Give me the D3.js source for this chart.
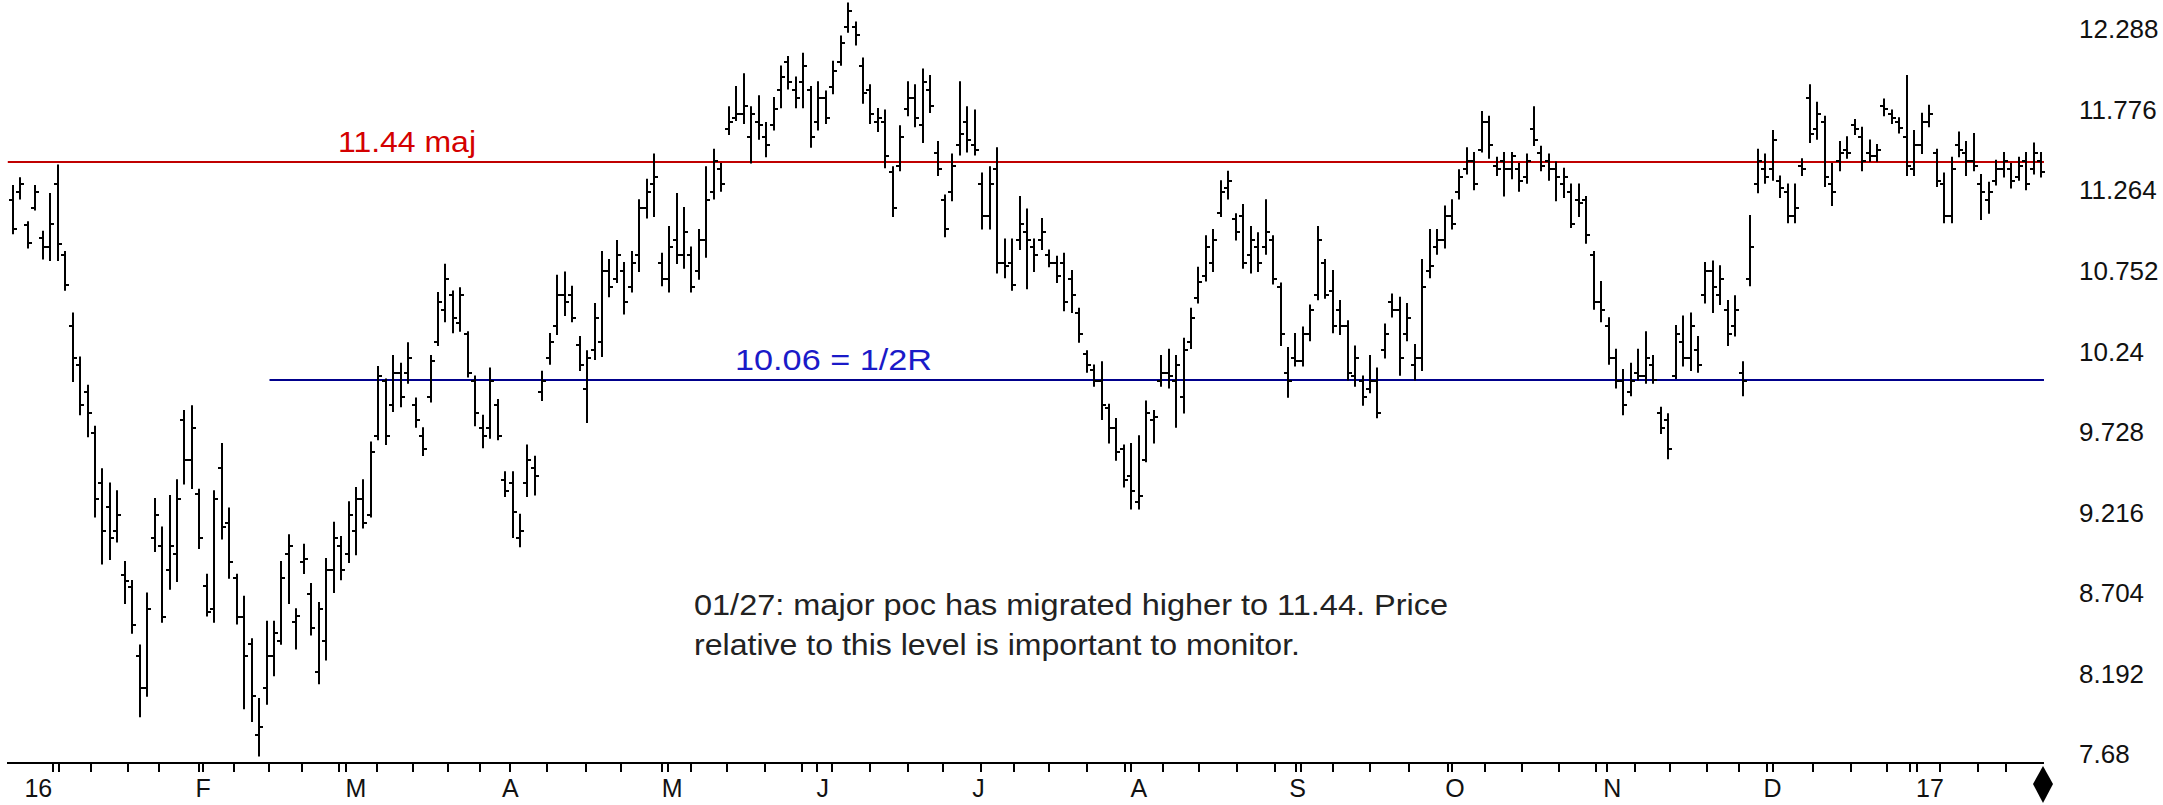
<!DOCTYPE html>
<html><head><meta charset="utf-8">
<script src="https://cdn.jsdelivr.net/npm/d3@7"></script>
<style>html,body{margin:0;padding:0;background:#fff;} svg{display:block}</style>
</head><body><svg id="c" width="2163" height="805"></svg>
<script>
// ---- data ----
const highs = [
11.29,11.34,11.06,11.29,11.00,11.24,11.42,10.87,10.48,10.20,
10.02,9.76,9.49,9.40,9.35,8.90,8.78,8.37,8.70,9.30,
9.12,9.32,9.42,9.86,9.89,9.36,8.82,9.35,9.65,9.24,
8.82,8.68,8.41,8.03,8.52,8.52,8.90,9.07,8.60,9.01,
8.76,8.64,8.92,9.15,9.06,9.28,9.37,9.42,9.66,10.14,
10.06,10.21,10.16,10.29,9.94,9.75,10.21,10.61,10.79,10.62,
10.64,10.36,10.08,9.83,10.13,9.93,9.47,9.47,9.20,9.64,
9.57,10.11,10.35,10.72,10.74,10.65,10.33,10.24,10.54,10.87,
10.82,10.94,10.80,10.87,11.20,11.33,11.49,10.86,11.03,11.24,
11.15,10.90,11.01,11.41,11.52,11.43,11.79,11.92,12.00,11.79,
11.86,11.69,11.85,12.05,12.11,11.98,12.13,11.92,11.95,11.89,
12.08,12.24,12.45,12.33,12.10,11.93,11.78,11.77,11.41,11.67,
11.95,11.93,12.03,11.99,11.57,11.23,11.49,11.95,11.79,11.77,
11.37,11.41,11.53,10.95,10.95,11.22,11.14,10.95,11.08,10.88,
10.84,10.86,10.75,10.51,10.24,10.15,10.17,9.90,9.81,9.64,
9.65,9.70,9.92,9.86,10.21,10.25,10.21,10.32,10.51,10.77,
10.97,11.01,11.32,11.38,11.11,11.17,11.03,10.99,11.20,10.97,
10.67,10.26,10.35,10.39,10.53,11.03,10.82,10.75,10.56,10.43,
10.27,10.08,10.21,10.13,10.41,10.60,10.58,10.54,10.28,10.82,
11.01,11.01,11.16,11.20,11.39,11.53,11.50,11.76,11.73,11.47,
11.50,11.50,11.43,11.49,11.79,11.54,11.49,11.44,11.40,11.30,
11.30,11.22,10.87,10.68,10.45,10.25,10.12,10.16,10.25,10.36,
10.21,9.88,9.84,10.40,10.46,10.48,10.33,10.80,10.81,10.78,
10.56,10.59,10.17,11.10,11.52,11.49,11.64,11.35,11.30,11.30,
11.46,11.93,11.82,11.73,11.43,11.57,11.60,11.71,11.66,11.58,
11.55,11.84,11.77,11.72,11.99,11.64,11.75,11.80,11.52,11.37,
11.47,11.63,11.57,11.62,11.36,11.31,11.45,11.50,11.43,11.47,
11.50,11.56,11.50];
const lows = [
10.99,11.21,10.90,11.14,10.83,10.82,10.82,10.63,10.05,9.84,
9.70,9.19,8.89,8.92,9.03,8.64,8.45,7.92,8.05,8.97,
8.52,8.73,8.78,9.40,9.37,8.99,8.56,8.52,9.05,8.80,
8.51,7.97,7.89,7.67,8.00,8.18,8.38,8.64,8.35,8.83,
8.44,8.13,8.28,8.71,8.79,8.90,8.95,9.12,9.19,9.68,
9.65,9.86,9.89,10.04,9.76,9.58,9.92,10.28,10.43,10.36,
10.37,10.08,9.77,9.63,9.69,9.68,9.32,9.06,9.00,9.32,
9.33,9.93,10.16,10.35,10.47,10.43,10.12,9.79,10.19,10.21,
10.59,10.68,10.48,10.62,10.75,11.09,11.10,10.66,10.62,10.80,
10.77,10.62,10.70,10.84,11.21,11.26,11.62,11.71,11.69,11.44,
11.59,11.48,11.65,11.79,11.91,11.79,11.79,11.54,11.65,11.69,
11.88,12.06,12.27,12.19,11.82,11.69,11.64,11.41,11.10,11.39,
11.74,11.67,11.57,11.76,11.36,10.97,11.20,11.49,11.51,11.49,
11.02,11.02,10.74,10.71,10.63,10.89,10.64,10.75,10.89,10.78,
10.68,10.50,10.49,10.30,10.11,10.02,9.81,9.66,9.55,9.38,
9.24,9.24,9.54,9.66,10.02,10.01,9.76,9.85,10.26,10.55,
10.69,10.75,11.10,11.21,10.95,10.77,10.74,10.75,10.86,10.67,
10.28,9.95,10.15,10.15,10.31,10.57,10.58,10.36,10.35,10.06,
10.02,9.90,9.98,9.82,10.20,10.46,10.09,10.31,10.06,10.12,
10.71,10.86,10.90,11.02,11.21,11.37,11.27,11.51,11.47,11.36,
11.23,11.34,11.26,11.31,11.55,11.39,11.33,11.20,11.22,11.03,
11.10,10.93,10.51,10.43,10.16,10.01,9.84,9.96,10.06,10.04,
10.04,9.72,9.56,10.07,10.15,10.12,10.11,10.55,10.49,10.54,
10.28,10.34,9.96,10.66,11.25,11.31,11.33,11.22,11.06,11.06,
11.36,11.57,11.59,11.29,11.17,11.39,11.47,11.62,11.39,11.45,
11.45,11.74,11.69,11.63,11.36,11.36,11.50,11.67,11.29,11.06,
11.06,11.48,11.36,11.39,11.08,11.12,11.30,11.35,11.28,11.33,
11.27,11.37,11.35];
const opens = [
11.20,11.25,11.04,11.15,10.96,10.90,11.30,10.85,10.40,10.15,
9.98,9.72,9.40,9.25,9.10,8.82,8.74,8.30,8.10,9.05,
9.00,8.85,8.95,9.80,9.55,9.33,8.75,8.60,9.50,9.15,
8.80,8.55,8.38,7.80,8.10,8.30,8.40,8.95,8.52,8.90,
8.70,8.20,8.40,8.85,9.00,8.95,9.10,9.30,9.20,9.70,
10.05,9.90,10.10,10.10,9.90,9.70,9.95,10.30,10.50,10.60,
10.42,10.35,10.05,9.75,9.75,9.90,9.42,9.40,9.05,9.40,
9.50,9.98,10.20,10.40,10.60,10.60,10.28,10.00,10.25,10.30,
10.75,10.70,10.75,10.65,10.85,11.15,11.30,10.80,10.70,10.95,
10.85,10.85,10.75,10.95,11.25,11.40,11.65,11.72,11.75,11.60,
11.70,11.60,11.68,11.90,12.08,11.90,11.95,11.90,11.70,11.85,
11.92,12.08,12.30,12.30,12.05,11.90,11.70,11.70,11.38,11.42,
11.78,11.85,11.68,11.90,11.50,11.20,11.25,11.55,11.70,11.55,
11.30,11.10,11.40,10.80,10.80,10.95,11.00,10.90,10.95,10.85,
10.80,10.80,10.70,10.48,10.22,10.12,10.05,9.88,9.75,9.62,
9.45,9.28,9.55,9.80,10.05,10.10,10.05,9.95,10.30,10.58,
10.72,10.80,11.12,11.28,11.08,11.10,10.85,10.90,10.90,10.95,
10.65,10.10,10.20,10.18,10.35,10.60,10.80,10.62,10.50,10.40,
10.08,10.05,10.00,10.05,10.25,10.55,10.50,10.35,10.15,10.20,
10.75,10.90,10.95,11.10,11.25,11.40,11.45,11.52,11.70,11.42,
11.45,11.40,11.40,11.35,11.65,11.50,11.45,11.40,11.30,11.25,
11.20,11.20,10.85,10.55,10.40,10.20,10.05,9.98,10.10,10.08,
10.15,9.85,9.80,10.08,10.30,10.20,10.25,10.60,10.75,10.60,
10.50,10.40,10.10,10.70,11.30,11.40,11.40,11.32,11.25,11.10,
11.42,11.85,11.65,11.70,11.30,11.45,11.52,11.68,11.60,11.50,
11.48,11.80,11.75,11.70,11.60,11.40,11.55,11.70,11.50,11.30,
11.10,11.55,11.50,11.45,11.30,11.20,11.32,11.40,11.40,11.35,
11.45,11.40,11.45];
const closes = [
11.02,11.30,10.93,11.25,10.90,11.05,10.92,10.66,10.20,9.90,
9.85,9.30,9.10,9.05,9.20,8.78,8.50,8.10,8.60,9.20,
8.55,9.00,9.30,9.55,9.75,9.05,8.58,9.30,9.12,8.90,
8.55,8.30,8.05,7.85,8.30,8.45,8.80,9.00,8.56,8.92,
8.48,8.60,8.85,9.05,8.85,9.20,9.30,9.15,9.60,10.08,
9.70,10.10,9.95,10.20,9.80,9.62,10.18,10.55,10.70,10.45,
10.60,10.10,9.85,9.70,10.05,9.70,9.35,9.22,9.10,9.55,
9.45,10.05,10.30,10.60,10.55,10.45,10.15,10.20,10.45,10.75,
10.65,10.85,10.55,10.80,11.15,11.25,11.35,10.70,10.90,10.85,
11.00,10.65,10.95,11.20,11.45,11.30,11.70,11.75,11.80,11.75,
11.68,11.55,11.78,11.98,11.95,11.85,12.05,11.60,11.85,11.72,
12.02,12.20,12.40,12.25,11.88,11.75,11.72,11.48,11.15,11.60,
11.85,11.72,11.95,11.80,11.40,11.02,11.42,11.62,11.58,11.52,
11.10,11.30,10.80,10.78,10.66,11.05,10.95,10.85,11.00,10.80,
10.72,10.55,10.60,10.35,10.15,10.05,9.90,9.75,9.60,9.42,
9.35,9.32,9.85,9.82,10.10,10.08,10.15,10.25,10.45,10.68,
10.90,10.95,11.25,11.32,11.00,10.80,10.95,10.80,11.00,10.70,
10.35,10.05,10.18,10.35,10.50,10.95,10.60,10.40,10.40,10.10,
10.20,9.95,10.05,9.85,10.35,10.50,10.20,10.45,10.20,10.65,
10.78,10.95,11.10,11.05,11.35,11.45,11.30,11.70,11.55,11.40,
11.40,11.48,11.32,11.45,11.58,11.42,11.40,11.35,11.35,11.05,
11.18,10.98,10.55,10.50,10.20,10.05,9.90,10.05,10.08,10.20,
10.06,9.75,9.62,10.35,10.20,10.40,10.15,10.75,10.65,10.70,
10.35,10.50,10.05,10.90,11.45,11.35,11.58,11.28,11.10,11.15,
11.40,11.62,11.75,11.35,11.25,11.50,11.50,11.65,11.45,11.48,
11.52,11.78,11.72,11.66,11.42,11.55,11.70,11.75,11.32,11.10,
11.40,11.52,11.45,11.42,11.25,11.25,11.40,11.45,11.32,11.42,
11.30,11.50,11.38];

const priceTicks = [12.288, 11.776, 11.264, 10.752, 10.24, 9.728, 9.216, 8.704, 8.192, 7.68];
const priceTickLabels = ["12.288","11.776","11.264","10.752","10.24","9.728","9.216","8.704","8.192","7.68"];
const monthLabels = ["16","F","M","A","M","J","J","A","S","O","N","D","17"];
const monthLabelIdx = [3.4, 25.5, 46, 66.7, 88.4, 108.6, 129.5, 151, 172.3, 193.4, 214.5, 236, 257.1];
const monthTickIdx = [6.2, 25.5, 44.6, 66.6, 87.8, 107.8, 129.8, 149.9, 172.8, 193, 213.8, 236, 255.4];
const weekTickIdx = [5.3,10.4,15.4,19.6,24.9,29.6,34.4,38.7,43.7,48.8,53.7,58.4,62.7,71.6,76.8,81.5,87.1,
  90.9,95.8,100.8,105.8,109.8,114.9,120.1,124.8,134.2,139,144.1,149.2,154.2,159.1,164.1,169.3,172.1,
  177.1,182,187.2,192.5,197.4,202.4,207.4,212.3,217.6,222.2,227.2,231.5,235.3,241.4,246.5,251.3,254.4,
  258.4,263.5,267.3];
const levelValues = [11.44, 10.06];
const levelLabels = ["11.44 maj", "10.06 = 1/2R"];
const noteLines = ["01/27: major poc has migrated higher to 11.44. Price",
                   "relative to this level is important to monitor."];

// ---- drawing ----
const W = 2163, H = 805;
const svg = d3.select("#c");
svg.append("rect").attr("width", W).attr("height", H).attr("fill", "#fff");

const x = d3.scaleLinear().domain([0, highs.length - 1]).range([13, 2041]);
const y = d3.scaleLinear().domain([7.68, 12.288]).range([754, 29]);
const FONT = "'Liberation Sans', Arial, 'DejaVu Sans', sans-serif";

// level lines
const levelColors = ["#c00000", "#00008c"];
const levelTextColors = ["#d40000", "#1a1ac8"];
const levelStartIdx = [-0.7, 34.4];
const levelEndIdx = highs.length - 0.6;
svg.append("g").selectAll("line").data(levelValues).join("line")
  .attr("x1", (d, i) => x(levelStartIdx[i])).attr("x2", x(levelEndIdx))
  .attr("y1", d => Math.round(y(d))).attr("y2", d => Math.round(y(d)))
  .attr("stroke", (d, i) => levelColors[i]).attr("stroke-width", 2);

// level labels
const levelLabelX = [338, 735];
const levelLabelW = [138, 197];
svg.append("g").selectAll("text").data(levelValues).join("text")
  .attr("x", (d, i) => levelLabelX[i]).attr("y", d => y(d) - 10)
  .attr("font-family", FONT).attr("font-size", 30)
  .attr("fill", (d, i) => levelTextColors[i])
  .attr("textLength", (d, i) => levelLabelW[i]).attr("lengthAdjust", "spacingAndGlyphs")
  .text((d, i) => levelLabels[i]);

// OHLC bars
const bars = d3.range(highs.length).map(i => ({ i, h: highs[i], l: lows[i], o: opens[i], c: closes[i] }));
const gb = svg.append("g").attr("stroke", "#000").attr("stroke-width", 2);
gb.selectAll("line.hl").data(bars).join("line").attr("class", "hl")
  .attr("x1", d => Math.round(x(d.i))).attr("x2", d => Math.round(x(d.i)))
  .attr("y1", d => y(d.h) - 1).attr("y2", d => y(d.l) + 1);
gb.selectAll("line.op").data(bars).join("line").attr("class", "op")
  .attr("x1", d => Math.round(x(d.i)) - 4).attr("x2", d => Math.round(x(d.i)))
  .attr("y1", d => Math.round(y(d.o))).attr("y2", d => Math.round(y(d.o)));
gb.selectAll("line.cl").data(bars).join("line").attr("class", "cl")
  .attr("x1", d => Math.round(x(d.i))).attr("x2", d => Math.round(x(d.i)) + 4)
  .attr("y1", d => Math.round(y(d.c))).attr("y2", d => Math.round(y(d.c)));

// x axis
const axisY = 763;
svg.append("line").attr("x1", 7).attr("x2", 2044).attr("y1", axisY).attr("y2", axisY)
  .attr("stroke", "#000").attr("stroke-width", 2);
svg.append("g").selectAll("line").data(weekTickIdx.concat(monthTickIdx)).join("line")
  .attr("x1", d => Math.round(x(d))).attr("x2", d => Math.round(x(d)))
  .attr("y1", axisY).attr("y2", axisY + 9)
  .attr("stroke", "#000").attr("stroke-width", 2);
svg.append("g").selectAll("text").data(monthLabelIdx).join("text")
  .attr("x", d => x(d)).attr("y", 797)
  .attr("text-anchor", "middle").attr("font-family", FONT).attr("font-size", 25).attr("fill", "#111")
  .text((d, i) => monthLabels[i]);

// end marker diamond
const dX = x(highs.length - 1) + 2;
svg.append("path")
  .attr("d", `M${dX},${axisY + 3} L${dX + 10},${axisY + 21} L${dX},${axisY + 40} L${dX - 10},${axisY + 21} Z`)
  .attr("fill", "#000");

// right price axis labels
svg.append("g").selectAll("text").data(priceTicks).join("text")
  .attr("x", 2079).attr("y", d => y(d)).attr("dy", "0.36em")
  .attr("font-family", FONT).attr("font-size", 26).attr("fill", "#111")
  .text((d, i) => priceTickLabels[i]);

// annotation
const noteW = [754, 606];
svg.append("g").selectAll("text").data(noteLines).join("text")
  .attr("x", 694).attr("y", (d, i) => 615 + i * 40)
  .attr("font-family", FONT).attr("font-size", 30).attr("fill", "#222")
  .attr("textLength", (d, i) => noteW[i]).attr("lengthAdjust", "spacingAndGlyphs")
  .text(d => d);
</script>
</body></html>
